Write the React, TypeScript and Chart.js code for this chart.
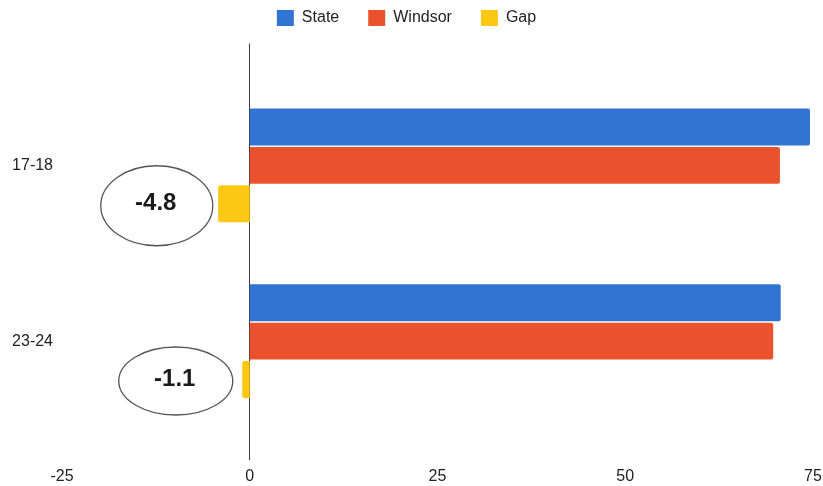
import React, { useEffect, useRef } from 'react';
import { Chart, registerables } from 'chart.js';

Chart.register(...registerables);

const categories = ['17-18', '23-24'];
const stateValues = [74.6, 70.7];
const windsorValues = [70.6, 69.7];
const gapValues = [-4.2, -1.0];
const gapLabels = ['-4.8', '-1.1'];
const xMin = -25;
const xMax = 75;
const xStep = 25;

const FONT = '"Liberation Sans", Arial, Helvetica, sans-serif';

export default function App() {
  const ref = useRef<HTMLCanvasElement>(null);

  useEffect(() => {
    if (!ref.current) return;

    const legendSpacer = {
      id: 'legendSpacer',
      beforeInit(chart: any) {
        const legend = chart.legend;
        if (!legend) return;
        const orig = legend.fit;
        legend.fit = function () {
          orig.call(this);
          this.height += 41.5;
        };
      },
    };

    const zeroLine = {
      id: 'zeroLine',
      beforeDatasetsDraw(chart: any) {
        const { ctx, chartArea, scales } = chart;
        const x = Math.round(scales.x.getPixelForValue(0)) - 0.5;
        ctx.save();
        ctx.strokeStyle = '#3a3a3a';
        ctx.lineWidth = 1;
        ctx.beginPath();
        ctx.moveTo(x, chartArea.top - 34);
        ctx.lineTo(x, chartArea.bottom + 31);
        ctx.stroke();
        ctx.restore();
      },
    };

    const calloutShapes = [
      { dx: -93, dy: 2, rx: 56, ry: 40 },
      { dx: -74, dy: 1.5, rx: 57, ry: 34 },
    ];

    const callouts = {
      id: 'callouts',
      afterDraw(chart: any) {
        const { ctx, scales } = chart;
        const meta = chart.getDatasetMeta(2);
        const zx = scales.x.getPixelForValue(0);
        ctx.save();
        meta.data.forEach((el: any, i: number) => {
          const s = calloutShapes[i];
          if (!s) return;
          const cx = zx + s.dx;
          const cy = el.y + s.dy;
          ctx.beginPath();
          ctx.ellipse(cx, cy, s.rx, s.ry, 0, 0, Math.PI * 2);
          ctx.strokeStyle = '#555555';
          ctx.lineWidth = 1.3;
          ctx.stroke();
          ctx.fillStyle = '#1a1a1a';
          ctx.font = 'bold 24px ' + FONT;
          ctx.textAlign = 'center';
          ctx.textBaseline = 'middle';
          ctx.fillText(gapLabels[i], cx - 1, cy - 2);
        });
        ctx.restore();
      },
    };

    const chart = new Chart(ref.current, {
      type: 'bar',
      data: {
        labels: categories,
        datasets: [
          {
            label: 'State',
            data: stateValues,
            backgroundColor: '#3274d3',
            borderWidth: 0,
            borderRadius: 2,
          },
          {
            label: 'Windsor',
            data: windsorValues,
            backgroundColor: '#e9522d',
            borderWidth: 0,
            borderRadius: 2,
          },
          {
            label: 'Gap',
            data: gapValues,
            backgroundColor: '#fcc813',
            borderWidth: 0,
            borderRadius: 2,
          },
        ],
      },
      options: {
        indexAxis: 'y',
        animation: false,
        responsive: true,
        maintainAspectRatio: false,
        categoryPercentage: 0.655,
        barPercentage: 0.96,
        layout: { padding: { top: -19, right: 10, left: 0, bottom: 0 } },
        plugins: {
          legend: {
            position: 'top',
            align: 'center',
            labels: {
              boxWidth: 17,
              boxHeight: 16,
              padding: 29,
              color: '#222222',
              font: { family: FONT, size: 16 },
            },
          },
          tooltip: { enabled: false },
        },
        scales: {
          x: {
            type: 'linear',
            min: xMin,
            max: xMax,
            grid: { display: false },
            border: { display: false },
            ticks: {
              stepSize: xStep,
              padding: 30,
              color: '#222222',
              font: { family: FONT, size: 16 },
            },
            afterFit(scale: any) {
              scale.height = 57;
              scale.paddingLeft = 0;
              scale.paddingRight = 10;
            },
          },
          y: {
            type: 'category',
            grid: { display: false, drawTicks: false },
            border: { display: false },
            ticks: {
              padding: 9,
              color: '#222222',
              font: { family: FONT, size: 16 },
            },
            afterFit(scale: any) {
              scale.width = 62;
            },
          },
        },
      },
      plugins: [legendSpacer, zeroLine, callouts],
    } as any);

    return () => chart.destroy();
  }, []);

  return (
    <div style={{ position: 'absolute', left: 0, top: 0, width: 823, height: 486, background: '#ffffff' }}>
      <canvas ref={ref} />
    </div>
  );
}
